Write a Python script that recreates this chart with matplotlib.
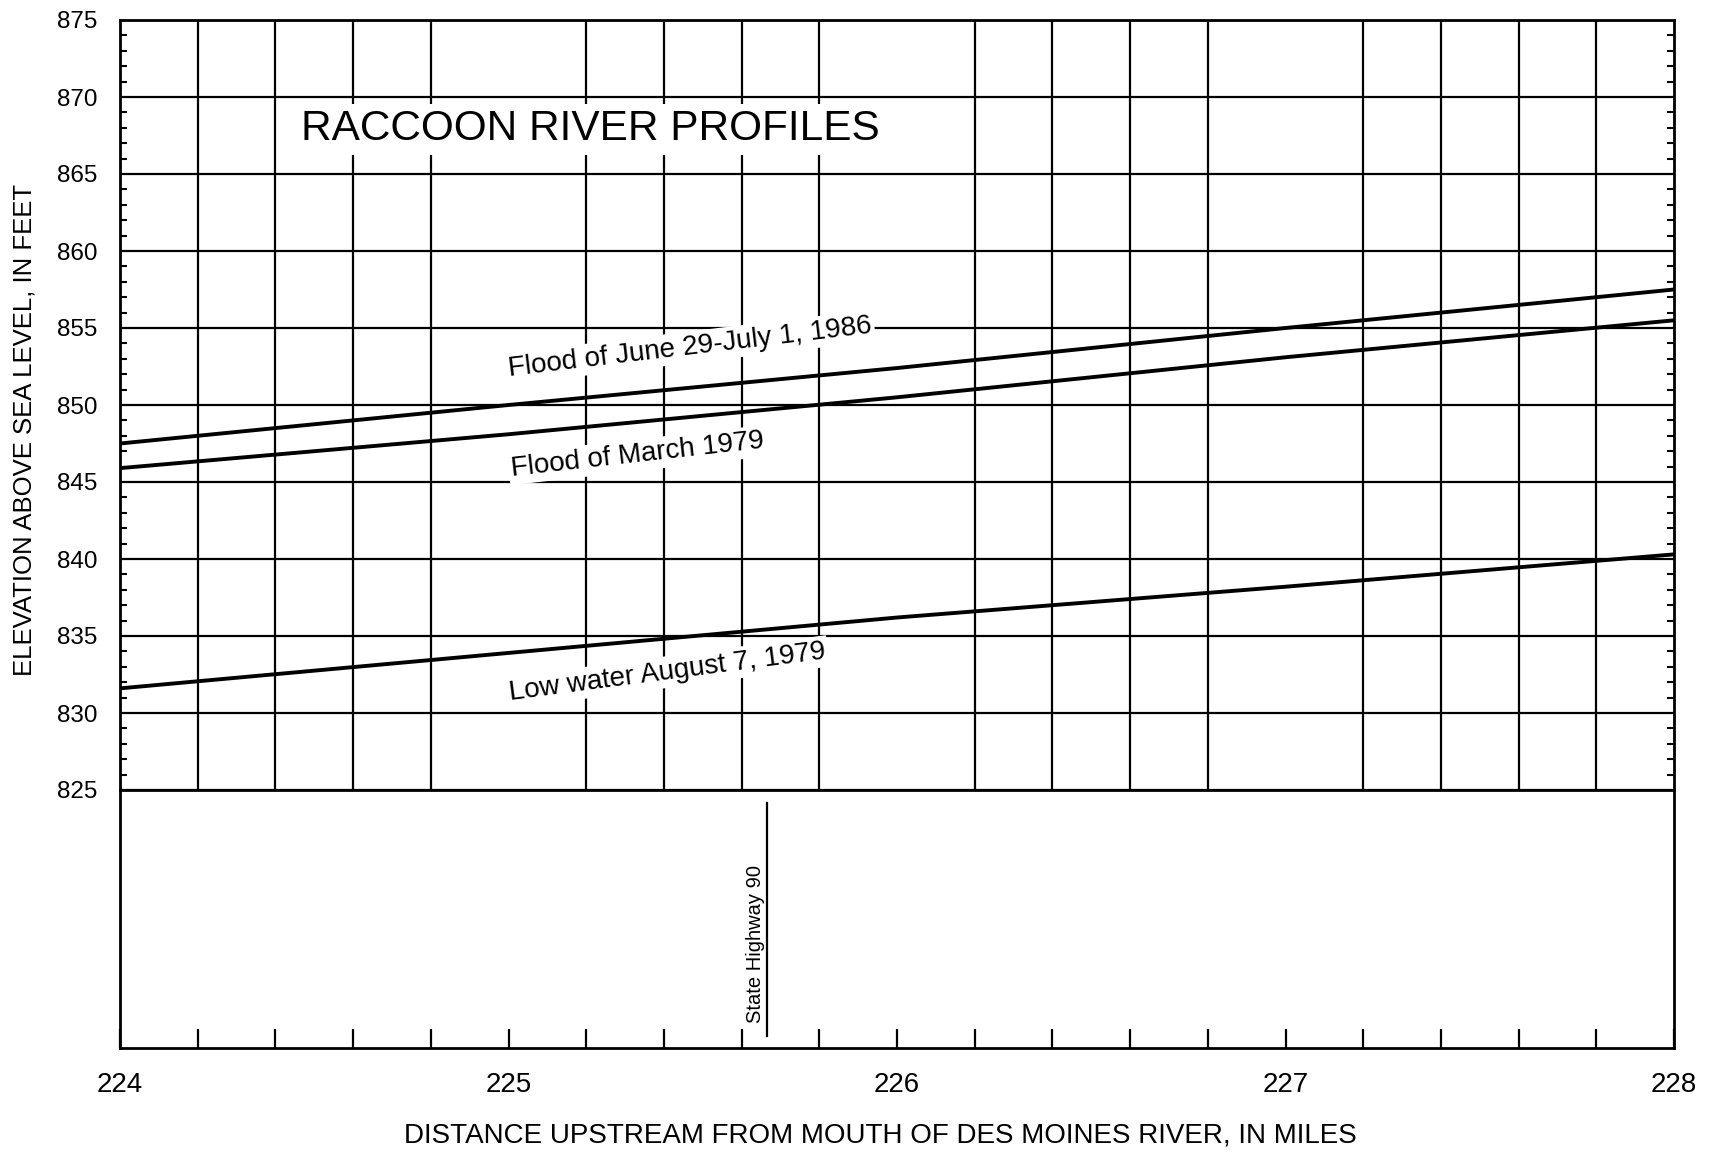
import numpy as np
import matplotlib
matplotlib.use('Agg')
import matplotlib.pyplot as plt
from matplotlib.ticker import MultipleLocator

plt.rcParams['font.family'] = ['Liberation Sans', 'DejaVu Sans']

# river mile and water-surface elevation (feet) read from the profiles
distance = [224.0, 225.0, 226.0, 227.0, 228.0]
flood_1986 = [847.5, 850.0, 852.4, 855.0, 857.5]
flood_1979 = [845.9, 848.1, 850.5, 853.1, 855.5]
low_1979 = [831.6, 833.9, 836.2, 838.2, 840.3]

profile_labels = ['Flood of June 29-July 1, 1986', 'Flood of March 1979',
                  'Low water August 7, 1979']
label_pos = [(225.467, 853.75), (225.333, 846.75), (225.408, 832.66)]
label_rot = [6.8, 6.4, 7.5]

highway_mile = 225.665
highway_name = 'State Highway 90'

x_ticks = [224, 225, 226, 227, 228]
y_ticks = [825, 830, 835, 840, 845, 850, 855, 860, 865, 870, 875]

fig = plt.figure(figsize=(17.16, 11.54), dpi=100)
left, width = 120 / 1716, (1674 - 120) / 1716
ax = fig.add_axes([left, (1154 - 790) / 1154, width, (790 - 20) / 1154])
ax2 = fig.add_axes([left, (1154 - 1048) / 1154, width, (1048 - 790) / 1154], sharex=ax)
ax2.patch.set_visible(False)

lw_grid = 1.6
lw_spine = 2.0

# upper panel: profiles on grid
ax.set_xlim(224, 228)
ax.set_ylim(825, 875)
ax.xaxis.set_minor_locator(MultipleLocator(0.2))
ax.set_yticks(y_ticks)
ax.yaxis.set_minor_locator(MultipleLocator(1))
ax.grid(which='minor', axis='x', color='black', lw=lw_grid)
ax.grid(which='major', axis='y', color='black', lw=lw_grid)
ax.tick_params(axis='x', which='both', length=0, labelbottom=False)
ax.tick_params(axis='y', which='major', length=0, pad=16, labelsize=17.5)
ax.tick_params(axis='y', which='minor', direction='in', length=5, width=1.5,
               left=True, right=True)
for s in ax.spines.values():
    s.set_linewidth(lw_spine)
    s.set_zorder(5)

for ys in (flood_1986, flood_1979, low_1979):
    ax.plot(distance, ys, color='black', lw=2.8, zorder=4, solid_capstyle='butt')

for txt, (tx, ty), rot in zip(profile_labels, label_pos, label_rot):
    ax.text(tx, ty, txt, fontsize=20, rotation=rot, ha='center', va='center',
            rotation_mode='anchor', zorder=3,
            bbox=dict(fc='white', ec='none', pad=2))

ax.text(225.21, 867.9, 'RACCOON RIVER PROFILES', fontsize=30.5, ha='center',
        va='center', zorder=3, bbox=dict(fc='white', ec='none', pad=4))

# lower panel: bridge locations
ax2.set_ylim(0, 1)
ax2.set_yticks([])
ax2.set_xticks(x_ticks)
ax2.xaxis.set_minor_locator(MultipleLocator(0.2))
ax2.tick_params(axis='x', which='both', direction='in', length=14, width=1.6,
                top=False, pad=17, labelsize=20)
ax2.spines['top'].set_visible(False)
for s in ('left', 'right', 'bottom'):
    ax2.spines[s].set_linewidth(lw_spine)

ax2.axvline(highway_mile, ymin=0.047, ymax=0.95, color='black', lw=1.6)
ax2.text(225.637, 0.097, highway_name, rotation=90, fontsize=14.5,
         ha='center', va='bottom')

fig.text(25 / 1716, 1 - 430 / 1154, 'ELEVATION ABOVE SEA LEVEL, IN FEET',
         rotation=90, fontsize=18.5, ha='center', va='center')
fig.text(880 / 1716, 1 - 1135 / 1154,
         'DISTANCE UPSTREAM FROM MOUTH OF DES MOINES RIVER, IN MILES',
         fontsize=20, ha='center', va='center')

fig.savefig('out.png', dpi=100)
plt.close(fig)
